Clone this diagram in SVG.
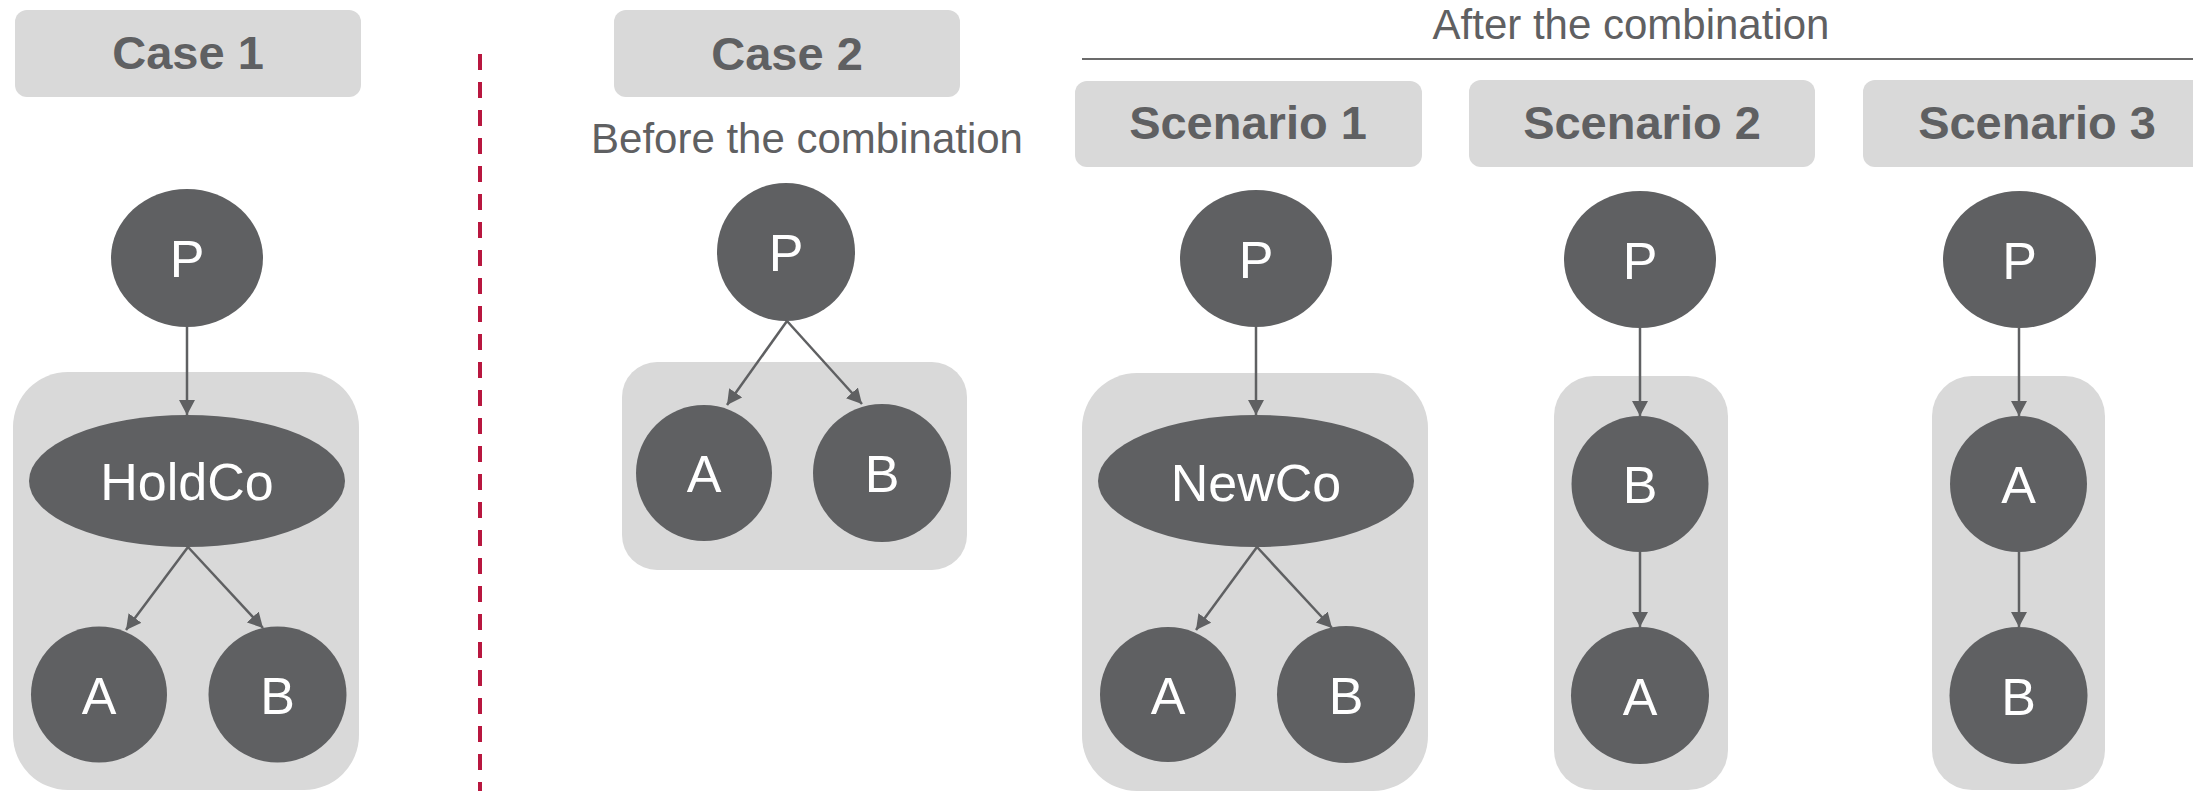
<svg xmlns="http://www.w3.org/2000/svg" width="2193" height="791" viewBox="0 0 2193 791">
<style>
.hdr{fill:#D9D9D9}
.hdrt{font-family:"Liberation Sans",Arial,sans-serif;font-weight:bold;font-size:47px;fill:#5F6062;text-anchor:middle}
.cap{font-family:"Liberation Sans",Arial,sans-serif;font-size:42px;fill:#5F6062;text-anchor:middle}
.grp{fill:#D9D9D9}
.nd{fill:#5F6062}
.nt{font-family:"Liberation Sans",Arial,sans-serif;font-size:52px;fill:#FFFFFF;text-anchor:middle}
.cn{stroke:#5F6062;stroke-width:2.5;fill:none;marker-end:url(#arr)}
</style>
<defs>
<marker id="arr" markerUnits="userSpaceOnUse" markerWidth="16" markerHeight="16" refX="15" refY="8" orient="auto">
<path d="M0,0 L15,8 L0,16 z" fill="#5F6062"/>
</marker>
</defs>
<rect width="2193" height="791" fill="#FFFFFF"/>

<!-- Case 1 -->
<g id="case1-header"><rect class="hdr" x="15" y="10" width="346" height="87" rx="12"/><text class="hdrt" x="188" y="69">Case 1</text></g>
<g id="case1-group"><rect class="grp" x="13" y="372" width="346" height="418" rx="55"/></g>
<g id="case1-P"><ellipse class="nd" cx="187" cy="258" rx="76" ry="69"/><text class="nt" x="187" y="277">P</text></g>
<g id="case1-HoldCo"><ellipse class="nd" cx="187" cy="481" rx="158" ry="66"/><text class="nt" x="187" y="500">HoldCo</text></g>
<g id="case1-A"><ellipse class="nd" cx="99" cy="694.5" rx="68" ry="68"/><text class="nt" x="99" y="714">A</text></g>
<g id="case1-B"><ellipse class="nd" cx="277.5" cy="694.5" rx="69" ry="68"/><text class="nt" x="277.5" y="714">B</text></g>

<!-- Divider -->
<g id="divider"><line x1="480" y1="54" x2="480" y2="791" stroke="#B8173F" stroke-width="4" stroke-dasharray="16 12"/></g>

<!-- Case 2 -->
<g id="case2-header"><rect class="hdr" x="614" y="10" width="346" height="87" rx="12"/><text class="hdrt" x="787" y="70">Case 2</text></g>
<g id="case2-before"><text class="cap" x="807" y="153">Before the combination</text></g>
<g id="case2-group"><rect class="grp" x="622" y="362" width="345" height="208" rx="35"/></g>
<g id="case2-P"><ellipse class="nd" cx="786" cy="252" rx="69" ry="69"/><text class="nt" x="786" y="271">P</text></g>
<g id="case2-A"><ellipse class="nd" cx="704" cy="473" rx="68" ry="68"/><text class="nt" x="704" y="492">A</text></g>
<g id="case2-B"><ellipse class="nd" cx="882" cy="473" rx="69" ry="69"/><text class="nt" x="882" y="492">B</text></g>

<!-- After the combination -->
<g id="after-title"><text class="cap" x="1631" y="39">After the combination</text><line x1="1082" y1="59" x2="2193" y2="59" stroke="#6B6B6B" stroke-width="2"/></g>

<!-- Scenario 1 -->
<g id="scen1-header"><rect class="hdr" x="1075" y="81" width="347" height="86" rx="12"/><text class="hdrt" x="1248" y="139">Scenario 1</text></g>
<g id="scen1-group"><rect class="grp" x="1082" y="373" width="346" height="418" rx="55"/></g>
<g id="scen1-P"><ellipse class="nd" cx="1256" cy="258.5" rx="76" ry="68.5"/><text class="nt" x="1256" y="278">P</text></g>
<g id="scen1-NewCo"><ellipse class="nd" cx="1256" cy="481" rx="158" ry="66"/><text class="nt" x="1256" y="501">NewCo</text></g>
<g id="scen1-A"><ellipse class="nd" cx="1168" cy="694.5" rx="68" ry="67.5"/><text class="nt" x="1168" y="714">A</text></g>
<g id="scen1-B"><ellipse class="nd" cx="1346" cy="694.5" rx="69" ry="68.5"/><text class="nt" x="1346" y="714">B</text></g>

<!-- Scenario 2 -->
<g id="scen2-header"><rect class="hdr" x="1469" y="80" width="346" height="87" rx="12"/><text class="hdrt" x="1642" y="139">Scenario 2</text></g>
<g id="scen2-group"><rect class="grp" x="1554" y="376" width="174" height="414" rx="40"/></g>
<g id="scen2-P"><ellipse class="nd" cx="1640" cy="259.5" rx="76" ry="68.5"/><text class="nt" x="1640" y="279">P</text></g>
<g id="scen2-B"><ellipse class="nd" cx="1640" cy="484" rx="68.5" ry="68"/><text class="nt" x="1640" y="503">B</text></g>
<g id="scen2-A"><ellipse class="nd" cx="1640" cy="695.5" rx="69" ry="68.5"/><text class="nt" x="1640" y="715">A</text></g>

<!-- Scenario 3 -->
<g id="scen3-header"><rect class="hdr" x="1863" y="80" width="347" height="87" rx="12"/><text class="hdrt" x="2037" y="139">Scenario 3</text></g>
<g id="scen3-group"><rect class="grp" x="1932" y="376" width="173" height="414" rx="40"/></g>
<g id="scen3-P"><ellipse class="nd" cx="2019.5" cy="259.5" rx="76.5" ry="68.5"/><text class="nt" x="2019.5" y="279">P</text></g>
<g id="scen3-A"><ellipse class="nd" cx="2018.5" cy="484" rx="68.5" ry="68"/><text class="nt" x="2018.5" y="503">A</text></g>
<g id="scen3-B"><ellipse class="nd" cx="2018.5" cy="695.5" rx="69" ry="68.5"/><text class="nt" x="2018.5" y="715">B</text></g>

<!-- Connectors -->
<g id="connectors">
<line class="cn" x1="187" y1="327" x2="187" y2="415"/>
<line class="cn" x1="188" y1="547" x2="126" y2="630"/>
<line class="cn" x1="188" y1="547" x2="263" y2="628"/>
<line class="cn" x1="787" y1="321" x2="727" y2="405"/>
<line class="cn" x1="787" y1="321" x2="862" y2="404"/>
<line class="cn" x1="1256" y1="327" x2="1256" y2="415"/>
<line class="cn" x1="1257" y1="547" x2="1196" y2="630"/>
<line class="cn" x1="1257" y1="547" x2="1332" y2="628"/>
<line class="cn" x1="1640" y1="328" x2="1640" y2="416"/>
<line class="cn" x1="1640" y1="552" x2="1640" y2="627"/>
<line class="cn" x1="2019" y1="328" x2="2019" y2="416"/>
<line class="cn" x1="2019" y1="552" x2="2019" y2="627"/>
</g>
</svg>
